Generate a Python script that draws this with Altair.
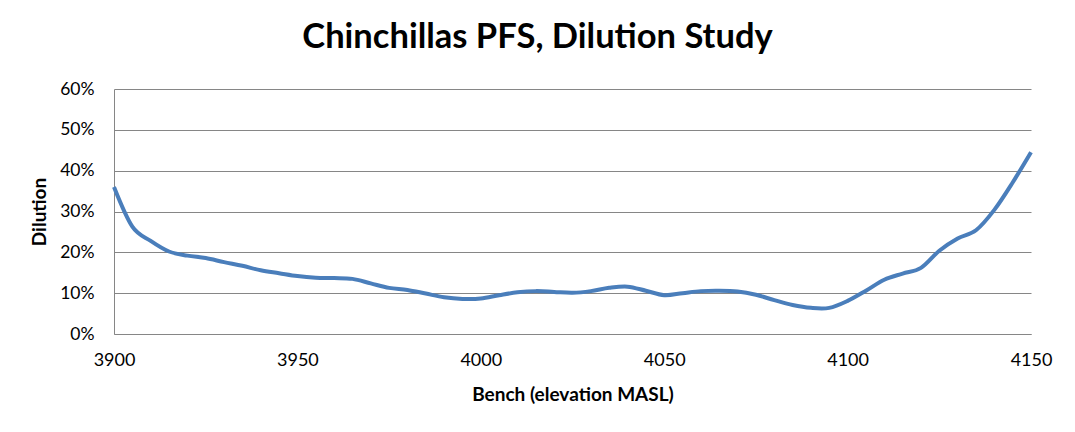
import altair as alt
import pandas as pd

bench = list(range(3900, 4151, 5))
dilution_pct = [
    36.0, 26.3, 22.8, 20.2, 19.2, 18.6, 17.6, 16.7, 15.6, 14.9,
    14.2, 13.8, 13.7, 13.5, 12.4, 11.3, 10.8, 9.9, 9.0, 8.6,
    8.7, 9.5, 10.2, 10.5, 10.3, 10.1, 10.5, 11.3, 11.6, 10.6,
    9.5, 10.0, 10.5, 10.6, 10.4, 9.6, 8.3, 7.1, 6.4, 6.4,
    8.1, 10.6, 13.3, 14.8, 16.2, 20.4, 23.4, 25.4, 30.4, 37.1,
    44.5,
]
x_ticks = [3900, 3950, 4000, 4050, 4100, 4150]
y_ticks = [0, 0.1, 0.2, 0.3, 0.4, 0.5, 0.6]

df = pd.DataFrame({"bench": bench, "dilution": [v / 100 for v in dilution_pct]})

GRID = "#868686"
FONT = "Lato"

line = alt.Chart(df).mark_line(
    color="#4A7EBB", strokeWidth=4, interpolate="cardinal"
).encode(
    x=alt.X(
        "bench:Q",
        scale=alt.Scale(domain=[3900, 4150], nice=False, zero=False),
        axis=alt.Axis(
            title="Bench (elevation MASL)",
            values=x_ticks,
            format="d",
            grid=False,
            ticks=False,
            tickSize=0,
            labelFlush=False,
            labelOverlap=False,
            labelBound=False,
            labelPadding=17,
            labelFont=FONT,
            labelFontSize=18,
            labelColor="black",
            domainColor=GRID,
            domainWidth=1,
            titleFont=FONT,
            titleFontSize=19,
            titleFontWeight="bold",
            titleColor="black",
            titleX=458.5,
            titleY=66,
            titleBaseline="alphabetic",
            titleAlign="center",
        ),
    ),
    y=alt.Y(
        "dilution:Q",
        scale=alt.Scale(domain=[0, 0.6], nice=False),
        axis=alt.Axis(
            title="Dilution",
            values=y_ticks,
            format=".0%",
            grid=True,
            gridColor=GRID,
            gridWidth=1,
            ticks=False,
            tickSize=0,
            labelPadding=20,
            labelFont=FONT,
            labelFontSize=17.5,
            labelColor="black",
            labelBaseline="middle",
            domainColor=GRID,
            domainWidth=1,
            titleFont=FONT,
            titleFontSize=19,
            titleFontWeight="bold",
            titleColor="black",
            titleAngle=-90,
            titleX=-69,
            titleY=122.5,
            titleBaseline="alphabetic",
            titleAlign="center",
        ),
    ),
)

chart = line.properties(
    width=917,
    height=245,
    title=alt.TitleParams(
        text="Chinchillas PFS, Dilution Study",
        font=FONT,
        fontSize=34.5,
        fontWeight="bold",
        color="black",
        anchor="middle",
        baseline="alphabetic",
        dx=-35,
        offset=-2,
    ),
    autosize=alt.AutoSizeParams(type="none"),
    padding={"left": 106, "top": 81, "right": 36, "bottom": 90},
).configure_view(stroke=None)

chart.save("out.html", embed_options={"renderer": "svg", "actions": False})
